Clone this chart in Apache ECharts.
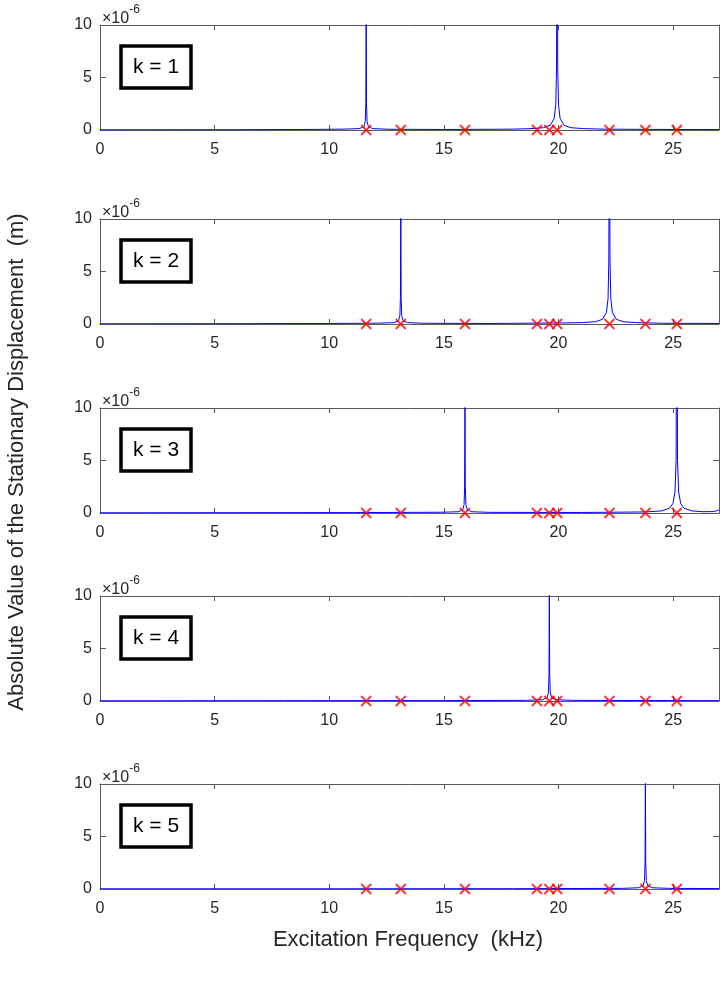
<!DOCTYPE html>
<html>
<head>
<meta charset="utf-8">
<script src="https://cdn.jsdelivr.net/npm/echarts@6/dist/echarts.min.js"></script>
<style>
html,body{margin:0;padding:0;background:#fff;}
#chart{width:722px;height:981px;}
</style>
</head>
<body>
<div id="chart"></div>
<script>
// ---- data (amplitudes in units of 1e-6 m, frequencies in kHz) ----
const xTicks = [0, 5, 10, 15, 20, 25];
const yTicks = [0, 5, 10];
const modeLabels = ['k = 1', 'k = 2', 'k = 3', 'k = 4', 'k = 5'];
const naturalFreqs = [11.61, 13.12, 15.92, 19.06, 19.6, 19.94, 22.22, 23.79, 25.16];

const response1 = [[0,0.02],[6,0.03],[9,0.05],[10.6,0.08],[11.3,0.13],[11.51,0.3],[11.57,0.8],[11.595,2.5],[11.605,8],[11.61,30],[11.615,8],[11.625,2.5],[11.65,0.8],[11.71,0.3],[11.9,0.13],[12.6,0.07],[15,0.05],[18,0.08],[18.8,0.13],[19.34,0.22],[19.64,0.45],[19.81,1.1],[19.88,2.4],[19.915,6],[19.94,30],[19.965,6],[20.0,2.4],[20.07,1.1],[20.24,0.45],[20.54,0.22],[21.1,0.13],[22,0.08],[25,0.05],[27,0.04]];
const response2 = [[0,0.02],[6,0.03],[10,0.05],[12.1,0.08],[12.82,0.13],[13.02,0.3],[13.08,0.8],[13.105,2.5],[13.115,8],[13.12,30],[13.125,8],[13.135,2.5],[13.16,0.8],[13.22,0.3],[13.42,0.13],[14.1,0.07],[17,0.05],[20.2,0.1],[21.0,0.13],[21.62,0.22],[21.92,0.45],[22.09,1.1],[22.16,2.4],[22.195,6],[22.22,30],[22.245,6],[22.28,2.4],[22.35,1.1],[22.52,0.45],[22.82,0.22],[23.4,0.13],[24.5,0.07],[27,0.05]];
const response3 = [[0,0.02],[6,0.03],[11,0.04],[14.9,0.07],[15.62,0.12],[15.82,0.3],[15.88,0.8],[15.905,2.5],[15.915,8],[15.92,30],[15.925,8],[15.935,2.5],[15.96,0.8],[16.02,0.3],[16.22,0.12],[17,0.06],[21,0.05],[23.8,0.1],[24.5,0.2],[24.84,0.45],[24.99,0.9],[25.08,2.0],[25.13,5],[25.16,30],[25.19,5],[25.24,2.0],[25.33,0.9],[25.48,0.45],[25.82,0.2],[26.3,0.12],[26.7,0.13],[26.9,0.2],[27,0.3]];
const response4 = [[0,0.02],[8,0.03],[15,0.04],[18.6,0.06],[19.3,0.12],[19.5,0.3],[19.56,0.8],[19.585,2.5],[19.595,8],[19.6,30],[19.605,8],[19.615,2.5],[19.64,0.8],[19.7,0.3],[19.9,0.12],[20.6,0.06],[27,0.03]];
const response5 = [[0,0.02],[10,0.02],[18,0.03],[22.8,0.06],[23.49,0.12],[23.69,0.3],[23.75,0.8],[23.775,2.5],[23.785,8],[23.79,30],[23.795,8],[23.805,2.5],[23.83,0.8],[23.89,0.3],[24.09,0.12],[24.8,0.06],[27,0.04]];
const responses = [response1, response2, response3, response4, response5];
const markerY = naturalFreqs.map(f => [f, 0]);

// ---- layout ----
const panelTops = [25, 219, 408, 596, 784];
const panelHeight = 105;
const gridLeft = 100, gridRight = 2;
const axisColor = '#5a5a5a';
const textColor = '#262626';
const FONT = 'Liberation Sans, Arial, Helvetica, sans-serif';

const grids = [], xAxes = [], yAxes = [], series = [], graphics = [];
panelTops.forEach((top, i) => {
  grids.push({left: gridLeft, right: gridRight, top: top, height: panelHeight, show: false});
  const common = {min: 0, max: 27, interval: 5, gridIndex: i, splitLine: {show: false},
    axisLine: {show: true, onZero: false, lineStyle: {color: axisColor, width: 1}},
    axisTick: {show: true, inside: true, length: 5, lineStyle: {color: axisColor}}};
  xAxes.push(Object.assign({}, common, {type: 'value', position: 'bottom',
    axisLabel: {show: true, color: textColor, fontSize: 16, fontFamily: FONT, margin: 12,
      formatter: v => (xTicks.indexOf(v) >= 0 ? String(v) : '')}}));
  xAxes.push(Object.assign({}, common, {type: 'value', position: 'top', axisLabel: {show: false}}));
  const ycommon = {type: 'value', min: 0, max: 10, interval: 5, gridIndex: i, splitLine: {show: false},
    axisLine: {show: true, onZero: false, lineStyle: {color: axisColor, width: 1}},
    axisTick: {show: true, inside: true, length: 6, lineStyle: {color: axisColor}}};
  yAxes.push(Object.assign({}, ycommon, {position: 'left',
    axisLabel: {show: true, color: textColor, fontSize: 16, fontFamily: FONT, margin: 8,
      padding: [4, 0, 0, 0],
      formatter: v => (yTicks.indexOf(v) >= 0 ? String(v) : '')}}));
  yAxes.push(Object.assign({}, ycommon, {position: 'right', axisLabel: {show: false}}));

  series.push({type: 'line', xAxisIndex: 2 * i, yAxisIndex: 2 * i, data: responses[i],
    showSymbol: false, symbol: 'none', clip: true, animation: false,
    lineStyle: {color: '#0000ff', width: 1}, z: 2});
  series.push({type: 'scatter', xAxisIndex: 2 * i, yAxisIndex: 2 * i, data: markerY,
    symbol: 'path://M0,0L10,10M10,0L0,10', symbolSize: 10, animation: false, clip: false,
    itemStyle: {color: 'rgba(0,0,0,0)', borderColor: '#ff0000', borderWidth: 1.8}, z: 3});

  // exponent label
  graphics.push({type: 'text', left: 102, top: top - 21,
    style: {text: '{a|×10}{b|-6}', fontFamily: FONT, fill: textColor,
      rich: {a: {fontSize: 16, fontFamily: FONT, fill: textColor, padding: [7, 0, 0, 0]},
             b: {fontSize: 12, fontFamily: FONT, fill: textColor, verticalAlign: 'top', padding: [0, 0, 7, 0]}}}});
  // k label box
  graphics.push({type: 'rect', shape: {x: 121, y: top + 21, width: 70, height: 42},
    style: {fill: '#fff', stroke: '#000', lineWidth: 3.5}, z: 10});
  graphics.push({type: 'text', x: 156, y: top + 42, z: 11,
    style: {text: modeLabels[i], fontSize: 21, fontFamily: FONT, fill: '#000',
      align: 'center', verticalAlign: 'middle'}});
});

graphics.push({type: 'text', x: 17, y: 462, rotation: Math.PI / 2,
  style: {text: 'Absolute Value of the Stationary Displacement  (m)', fontSize: 22, fontFamily: FONT,
    fill: textColor, align: 'center', verticalAlign: 'middle'}});
graphics.push({type: 'text', x: 408, y: 940,
  style: {text: 'Excitation Frequency  (kHz)', fontSize: 22, fontFamily: FONT,
    fill: textColor, align: 'center', verticalAlign: 'middle'}});

const chart = echarts.init(document.getElementById('chart'), null, {renderer: 'canvas'});
chart.setOption({
  animation: false,
  backgroundColor: '#fff',
  grid: grids, xAxis: xAxes, yAxis: yAxes, series: series, graphic: graphics
});
</script>
</body>
</html>
